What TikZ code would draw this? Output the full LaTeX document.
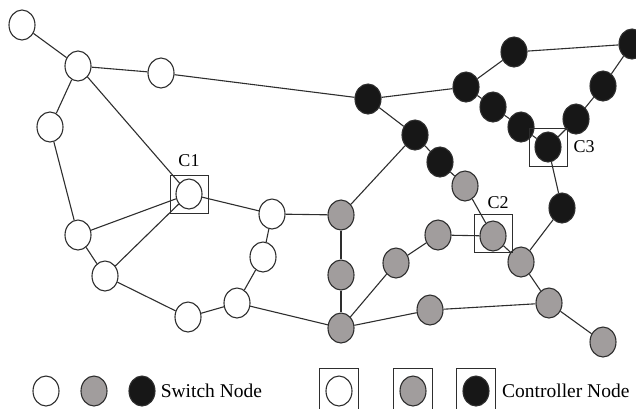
\documentclass[tikz,border=0pt]{standalone}
\usepackage{fontspec}
\setmainfont{Liberation Serif}
\usetikzlibrary{shapes.geometric,positioning}
\definecolor{edgegray}{HTML}{2E2E2E}
\definecolor{swgray}{HTML}{A19D9D}
\definecolor{swblack}{HTML}{171717}

\tikzset{
  sw/.style={ellipse, draw=edgegray, line width=1.1pt, minimum width=26pt, minimum height=30pt, inner sep=0pt},
  swwhite/.style={sw, fill=white},
  swgrey/.style={sw, fill=swgray},
  swdark/.style={sw, fill=swblack},
  ctrlbox/.style={rectangle, draw=edgegray, line width=1pt, minimum width=38pt, minimum height=38pt, inner sep=0pt},
  lbl/.style={font=\fontsize{18}{20}\selectfont, inner sep=0pt},
  legtext/.style={font=\fontsize{19.5}{22}\selectfont, inner sep=0pt}
}

\begin{document}
\begin{tikzpicture}[x=1pt,y=-1pt,node distance=40pt,on grid,every edge/.style={draw=edgegray,line width=1.1pt}]
  \useasboundingbox (0,0) rectangle (636,408);
  % white part
  \node[swwhite] (w1) at (22,25) {};
  \node[swwhite] (w2) [below right=41pt and 56pt of w1] {};
  \node[swwhite] (w3) [below right=7pt and 83pt of w2] {};
  \node[swwhite] (w4) [below left=61pt and 28pt of w2] {};
  \node[swwhite] (c1) [below right=128pt and 111pt of w2] {};
  \node[swwhite] (w6) [below right=108pt and 28pt of w4] {};
  \node[swwhite] (w7) [below right=41pt and 27pt of w6] {};
  \node[swwhite] (w8) [below right=20pt and 83pt of c1] {};
  \node[swwhite] (w9) [below left=43pt and 9pt of w8] {};
  \node[swwhite] (w10) [below left=46pt and 26pt of w9] {};
  \node[swwhite] (w11) [below left=14pt and 49pt of w10] {};
  % grey part
  \node[swgrey] (g1) [below right=1pt and 69pt of w8] {};
  \node[swgrey] (g2) [below=60pt of g1] {};
  \node[swgrey] (g3) [below=53pt of g2] {};
  \node[swgrey] (g4) [above right=65pt and 55pt of g3] {};
  \node[swgrey] (g5) [above right=28pt and 42pt of g4] {};
  \node[swgrey] (c2) [below right=1pt and 55pt of g5] {};
  \node[swgrey] (g7) [below right=26pt and 28pt of c2] {};
  \node[swgrey] (g8) [below right=41pt and 28pt of g7] {};
  \node[swgrey] (g9) [below right=39pt and 54pt of g8] {};
  \node[swgrey] (g10) [above right=18pt and 89pt of g3] {};
  \node[swgrey] (g11) [above left=50pt and 28pt of c2] {};
  % black part
  \node[swdark] (b1) [below right=26pt and 207pt of w3] {};
  \node[swdark] (b2) [below right=36pt and 47pt of b1] {};
  \node[swdark] (b3) [below right=27pt and 25pt of b2] {};
  \node[swdark] (b4) [above right=12pt and 98pt of b1] {};
  \node[swdark] (b5) [above right=35pt and 48pt of b4] {};
  \node[swdark] (b6) [above right=8pt and 118pt of b5] {};
  \node[swdark] (b7) [below left=42pt and 29pt of b6] {};
  \node[swdark] (b8) [below left=33pt and 27pt of b7] {};
  \node[swdark] (b9) [below right=20pt and 27pt of b4] {};
  \node[swdark] (b10) [below right=20pt and 28pt of b9] {};
  \node[swdark] (c3) [below right=20pt and 27pt of b10] {};
  \node[swdark] (b12) [below right=61pt and 14pt of c3] {};
  % controllers
  \node[ctrlbox, label={[lbl, label distance=8pt]above:C1}] (c1box) at (c1) {};
  \node[ctrlbox, label={[lbl, label distance=5pt, xshift=5pt]above:C2}] (c2box) at ([yshift=3pt]c2) {};
  \node[ctrlbox, label={[lbl, label distance=6pt]right:C3}] (c3box) at (c3) {};
  \path
    (w1) edge (w2)
    (w2) edge (w3)
         edge (w4)
         edge (c1)
    (w3) edge (b1)
    (w4) edge (w6)
    (w6) edge (c1)
         edge (w7)
    (w7) edge (c1)
         edge (w11)
    (c1) edge (w8)
    (w8) edge (g1)
         edge (w9)
    (w9) edge (w10)
    (w10) edge (w11)
          edge (g3)
    (g1) edge (g2)
         edge (b2)
    (g2) edge (g3)
    (g3) edge (g4)
         edge (g10)
    (g4) edge (g5)
    (g5) edge (c2)
    (c2) edge (g7)
         edge (g11)
    (g7) edge (g8)
    (g8) edge (g9)
         edge (g10)
    (g11) edge (b3)
    (b3) edge (b2)
    (b2) edge (b1)
    (b1) edge (b4)
    (b4) edge (b5)
         edge (b9)
    (b5) edge (b6)
    (b6) edge (b7)
    (b7) edge (b8)
    (b8) edge (c3)
    (b9) edge (b10)
    (b10) edge (c3)
    (c3) edge (b12)
    (b12) edge (g7);
  % legend
  \node[swwhite] (lw) at (46,391) {};
  \node[swgrey] (lg) [right=48pt of lw] {};
  \node[swdark] (lb) [right=48pt of lg] {};
  \node[legtext, anchor=west] (lsw) at ([xshift=5pt]lb.east) {Switch Node};
  \node[swwhite] (lcw) at (339,391) {};
  \node[swgrey] (lcg) [right=74pt of lcw] {};
  \node[swdark] (lcb) [right=63pt of lcg] {};
  \node[ctrlbox, minimum width=39pt, minimum height=46pt] (lcwbox) at (lcw) {};
  \node[ctrlbox, minimum width=39pt, minimum height=46pt] (lcgbox) at (lcg) {};
  \node[ctrlbox, minimum width=39pt, minimum height=46pt] (lcbbox) at (lcb) {};
  \node[legtext, anchor=west] (lctrl) at ([xshift=6pt]lcbbox.east) {Controller Node};
\end{tikzpicture}
\end{document}
